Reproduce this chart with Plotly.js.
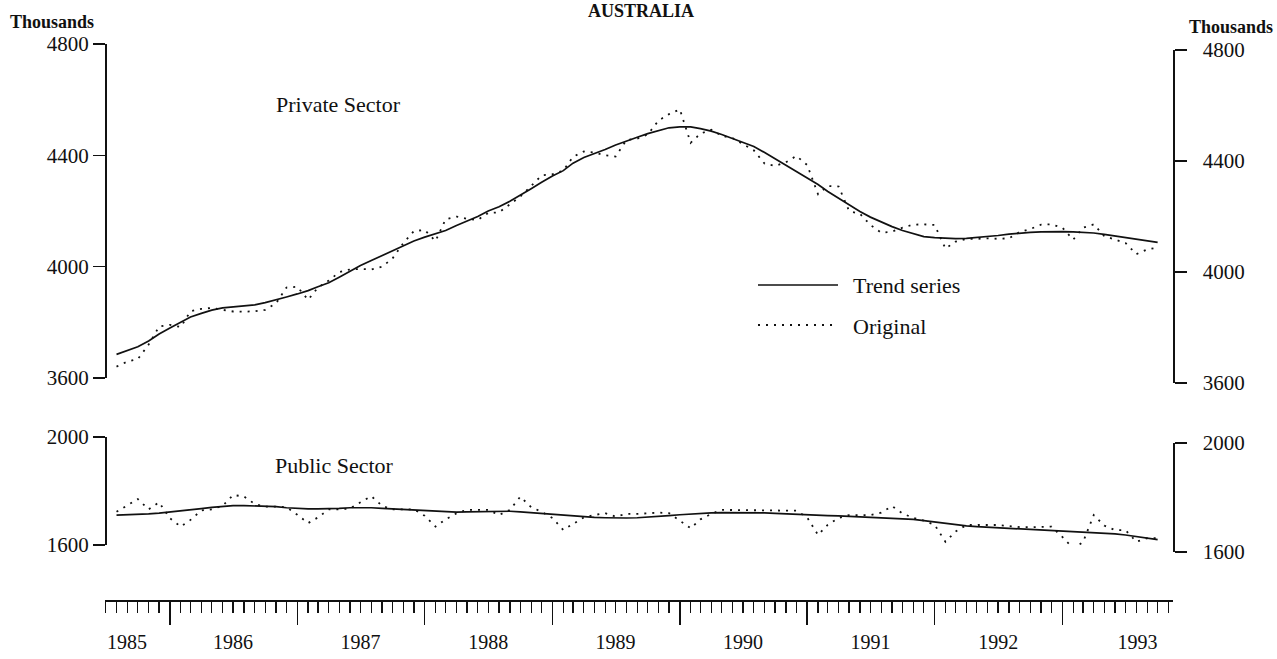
<!DOCTYPE html>
<html>
<head>
<meta charset="utf-8">
<script src="https://cdn.plot.ly/plotly-3.0.1.min.js"></script>
<style>
html,body{margin:0;padding:0;background:#fff;}
#chart{width:1277px;height:659px;}
</style>
</head>
<body>
<div id="chart"></div>
<script>
// ---- data (monthly, Aug 1985 – Oct 1993, thousands) ----
const START_YEAR = 1985, START_MONTH = 8, N_MONTHS = 99;

const privateTrend = [
3685,3698,3712,3733,3758,3780,3800,3819,3832,3844,3852,3856,
3859,3863,3871,3880,3891,3902,3914,3928,3942,3962,3984,4004,
4022,4040,4055,4075,4092,4106,4118,4130,4148,4165,4180,4200,
4215,4235,4256,4280,4303,4326,4345,4372,4392,4405,4421,4437,
4452,4465,4478,4490,4499,4502,4502,4496,4487,4475,4461,4447,
4432,4410,4387,4365,4342,4318,4295,4270,4245,4222,4198,4178,
4160,4144,4130,4118,4108,4104,4102,4101,4102,4105,4108,4112,
4117,4121,4123,4125,4126,4126,4125,4123,4121,4116,4110,4104,
4097,4091,4087];

const privateOriginal = [
3641,3659,3668,3720,3785,3791,3783,3840,3848,3852,3845,3839,
3838,3840,3845,3868,3925,3928,3881,3925,3950,3980,3990,3992,
3990,4000,4030,4085,4128,4132,4092,4170,4180,4172,4168,4193,
4195,4225,4252,4290,4328,4332,4345,4395,4414,4410,4400,4396,
4455,4460,4475,4525,4548,4565,4445,4478,4492,4470,4462,4440,
4418,4370,4362,4375,4398,4365,4260,4290,4288,4200,4190,4150,
4122,4126,4140,4151,4152,4150,4065,4090,4100,4100,4102,4100,
4102,4125,4135,4151,4152,4140,4097,4140,4152,4110,4097,4085,
4045,4062,4068];

const publicTrend = [
1711,1712,1713,1715,1718,1723,1727,1731,1735,1739,1743,1746,
1746,1745,1744,1742,1738,1735,1734,1734,1734,1736,1738,1739,
1738,1736,1734,1731,1729,1726,1724,1723,1722,1723,1724,1725,
1726,1725,1723,1720,1717,1713,1709,1706,1703,1702,1701,1700,
1700,1701,1703,1706,1709,1712,1715,1717,1719,1720,1720,1720,
1720,1719,1717,1715,1713,1711,1710,1709,1708,1706,1705,1703,
1701,1699,1698,1695,1690,1685,1679,1675,1671,1668,1666,1664,
1662,1659,1657,1656,1654,1653,1651,1649,1647,1644,1641,1637,
1632,1626,1620];

const publicOriginal = [
1723,1748,1770,1732,1758,1699,1668,1693,1728,1732,1745,1785,
1780,1752,1742,1742,1740,1712,1681,1702,1732,1732,1735,1758,
1781,1745,1732,1732,1732,1708,1668,1695,1717,1730,1730,1730,
1711,1730,1779,1740,1723,1700,1656,1678,1702,1711,1718,1705,
1715,1715,1718,1720,1718,1690,1662,1695,1715,1730,1730,1730,
1730,1730,1728,1727,1727,1702,1637,1675,1700,1711,1711,1711,
1720,1744,1717,1700,1690,1675,1612,1650,1674,1674,1674,1674,
1670,1666,1666,1666,1668,1630,1588,1610,1711,1672,1655,1655,
1612,1625,1625];

const yearLabels = ['1985','1986','1987','1988','1989','1990','1991','1992','1993'];
const yearLabelDates = ['1985-08-31','1986-07-01','1987-07-01','1988-07-01','1989-07-01',
                        '1990-07-01','1991-07-01','1992-07-01','1993-08-04'];
const privateTicks = [3600, 4000, 4400, 4800];
const publicTicks = [1600, 2000];

// month dates
const months = [];
for (let i = 0; i < N_MONTHS; i++) {
  const m0 = START_MONTH - 1 + i;
  const y = START_YEAR + Math.floor(m0 / 12);
  const m = (m0 % 12) + 1;
  months.push(y + '-' + String(m).padStart(2, '0') + '-01');
}

// ---- layout geometry (pixels) ----
const W = 1277, H = 659;
const L = 105, R = 1173, T = 44, B = 600;
const px = x => (x - L) / (R - L);
const py = y => (B - y) / (B - T);

const FONT = 'Liberation Serif, Times New Roman, serif';
const INK = '#111';
const XRANGE = ['1985-06-29', '1993-11-14'];

const trendLine = {color: INK, width: 1.7};
const origLine = {color: INK, width: 1.8, dash: '2px,6px'};

const traces = [
  {x: months, y: privateTrend, xaxis: 'x', yaxis: 'y', mode: 'lines', line: trendLine, name: 'Trend series'},
  {x: months, y: privateOriginal, xaxis: 'x', yaxis: 'y', mode: 'lines', line: origLine, name: 'Original'},
  {x: months, y: publicTrend, xaxis: 'x', yaxis: 'y3', mode: 'lines', line: trendLine, name: 'Trend series'},
  {x: months, y: publicOriginal, xaxis: 'x', yaxis: 'y3', mode: 'lines', line: origLine, name: 'Original'},
  {x: [], y: [], xaxis: 'x', yaxis: 'y2', mode: 'lines', hoverinfo: 'skip'},
  {x: [], y: [], xaxis: 'x', yaxis: 'y4', mode: 'lines', hoverinfo: 'skip'},
  {x: [], y: [], xaxis: 'x2', yaxis: 'y', mode: 'lines', hoverinfo: 'skip'}
];

const yBase = {
  showgrid: false, zeroline: false, showline: true, linecolor: INK, linewidth: 1.6,
  ticks: 'outside', ticklen: 12, tickwidth: 1.6, tickcolor: INK,
  tickfont: {family: FONT, size: 21, color: INK}, fixedrange: true,
  anchor: 'free'
};

const layout = {
  width: W, height: H,
  paper_bgcolor: '#fff', plot_bgcolor: 'rgba(0,0,0,0)',
  margin: {l: L, r: W - R, t: T, b: H - B, pad: 0},
  showlegend: false,
  font: {family: FONT, color: INK},
  xaxis: {
    type: 'date', range: XRANGE, domain: [0, 1], anchor: 'free', position: 0,
    showgrid: false, zeroline: false, showline: true, linecolor: INK, linewidth: 1.6,
    ticks: 'outside', ticklen: 23, tickwidth: 1.5, tickcolor: INK,
    dtick: 'M12', tick0: '1986-01-01', showticklabels: false,
    minor: {ticks: 'outside', ticklen: 11, tickwidth: 1.3, tickcolor: INK, dtick: 'M1', tick0: '1985-07-01', showgrid: false},
    fixedrange: true
  },
  xaxis2: {
    type: 'date', range: XRANGE, overlaying: 'x', anchor: 'free', position: 0,
    showgrid: false, zeroline: false, showline: false,
    tickmode: 'array', tickvals: yearLabelDates, ticktext: yearLabels,
    ticks: 'outside', ticklen: 24, tickcolor: 'rgba(0,0,0,0)',
    tickfont: {family: FONT, size: 20, color: INK}, fixedrange: true
  },
  yaxis: Object.assign({}, yBase, {
    domain: [py(378), py(44)], range: [3600, 4800], position: 0, side: 'left',
    tickmode: 'array', tickvals: privateTicks
  }),
  yaxis2: Object.assign({}, yBase, {
    domain: [py(383), py(50)], range: [3600, 4800], position: 1, side: 'right',
    tickmode: 'array', tickvals: privateTicks, ticklabelstandoff: 12
  }),
  yaxis3: Object.assign({}, yBase, {
    domain: [py(545), py(437)], range: [1600, 2000], position: 0, side: 'left',
    tickmode: 'array', tickvals: publicTicks
  }),
  yaxis4: Object.assign({}, yBase, {
    domain: [py(552), py(443)], range: [1600, 2000], position: 1, side: 'right',
    tickmode: 'array', tickvals: publicTicks, ticklabelstandoff: 12
  }),
  shapes: [
    {type: 'line', xref: 'paper', yref: 'paper', x0: px(758), x1: px(838), y0: py(285), y1: py(285), line: trendLine},
    {type: 'line', xref: 'paper', yref: 'paper', x0: px(758), x1: px(836), y0: py(325), y1: py(325), line: origLine}
  ],
  annotations: [
    {text: '<b>AUSTRALIA</b>', xref: 'paper', yref: 'paper', x: px(641), y: py(11), xanchor: 'center', yanchor: 'middle', showarrow: false, font: {family: FONT, size: 18, color: INK}},
    {text: '<b>Thousands</b>', xref: 'paper', yref: 'paper', x: px(8), y: py(22), xanchor: 'left', yanchor: 'middle', showarrow: false, font: {family: FONT, size: 18, color: INK}},
    {text: '<b>Thousands</b>', xref: 'paper', yref: 'paper', x: px(1275), y: py(27), xanchor: 'right', yanchor: 'middle', showarrow: false, font: {family: FONT, size: 18, color: INK}},
    {text: 'Private Sector', xref: 'paper', yref: 'paper', x: px(274), y: py(104), xanchor: 'left', yanchor: 'middle', showarrow: false, font: {family: FONT, size: 22, color: INK}},
    {text: 'Public Sector', xref: 'paper', yref: 'paper', x: px(273), y: py(465), xanchor: 'left', yanchor: 'middle', showarrow: false, font: {family: FONT, size: 22, color: INK}},
    {text: 'Trend series', xref: 'paper', yref: 'paper', x: px(851), y: py(285), xanchor: 'left', yanchor: 'middle', showarrow: false, font: {family: FONT, size: 22, color: INK}},
    {text: 'Original', xref: 'paper', yref: 'paper', x: px(851), y: py(326), xanchor: 'left', yanchor: 'middle', showarrow: false, font: {family: FONT, size: 22, color: INK}}
  ]
};

Plotly.newPlot('chart', traces, layout, {staticPlot: true, displayModeBar: false});
</script>
</body>
</html>
